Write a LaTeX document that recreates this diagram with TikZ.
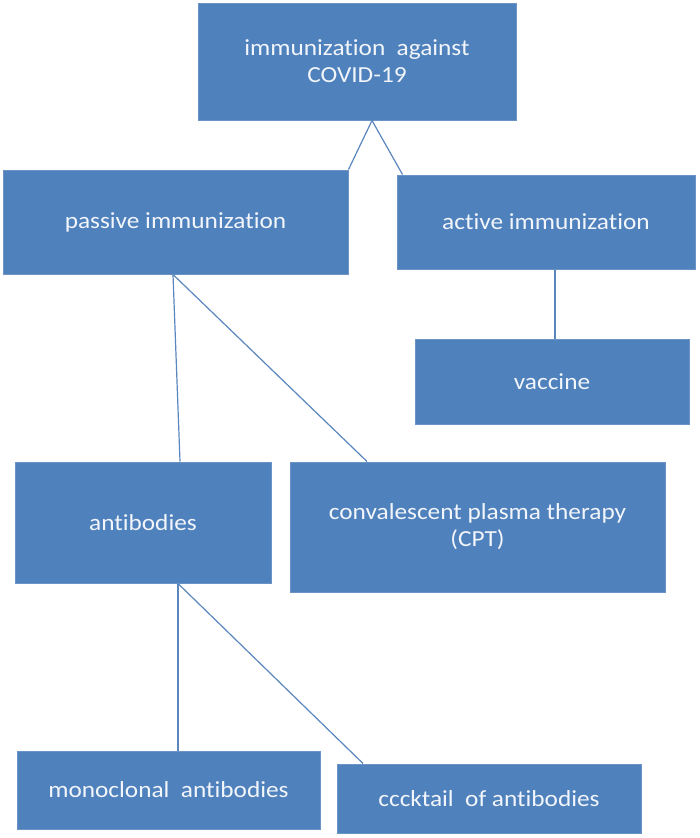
\documentclass[tikz,border=0pt]{standalone}
\usepackage{fontspec}
\setmainfont{Carlito}[FakeStretch=1.1, Ligatures={NoCommon}]
\usetikzlibrary{calc}
\definecolor{boxfill}{HTML}{4F81BD}
\definecolor{boxedge}{HTML}{6A93C6}
\definecolor{linkcol}{HTML}{5A86BE}
\definecolor{txt}{HTML}{F2F5FA}
\tikzset{
  box/.style={rectangle, draw=boxedge, fill=boxfill, line width=1pt, text=txt,
    inner sep=0pt, align=center, font=\fontsize{23}{27}\selectfont},
  link/.style={draw=linkcol, line width=1.2pt}
}
\begin{document}
\begin{tikzpicture}[x=1pt,y=-1pt]
\useasboundingbox (0,0) rectangle (699,838);
\node[box, minimum width=318pt, minimum height=117pt] (top) at (357,61.5) {immunization\ \ against\\COVID-19};
\node[box, minimum width=345pt, minimum height=104pt] (passive) at (175.5,222) {passive immunization};
\node[box, minimum width=298pt, minimum height=94pt] (active) at (546,222) {active immunization};
\node[box, minimum width=274pt, minimum height=85pt] (vaccine) at (552,381.5) {vaccine};
\node[box, minimum width=256pt, minimum height=121pt] (antib) at (143,522.5) {antibodies};
\node[box, minimum width=375pt, minimum height=130pt] (cpt) at (477.5,527) {convalescent plasma therapy\\(CPT)};
\node[box, minimum width=303pt, minimum height=78pt] (mono) at (168.5,790) {monoclonal\ \ antibodies};
\node[box, minimum width=304pt, minimum height=69pt] (cock) at (489,798.5) {cccktail\ \ of antibodies};
% connectors
\draw[link] ($(top.south)+(15,0)$) -- (passive.north east);
\draw[link] ($(top.south)+(15,0)$) -- ($(active.north west)+(6,0)$);
\draw[link] ($(active.south)+(9,0)$) -- ($(vaccine.north)+(3,0)$);
\draw[link] ($(passive.south)+(-2.5,0)$) -- ($(antib.north)+(37,0)$);
\draw[link] ($(passive.south)+(-2.5,0)$) -- ($(cpt.north)+(-110.5,0)$);
\draw[link] ($(antib.south)+(35,0)$) -- ($(mono.north)+(9.5,0)$);
\draw[link] ($(antib.south)+(35,0)$) -- ($(cock.north)+(-126,0)$);
\end{tikzpicture}
\end{document}
